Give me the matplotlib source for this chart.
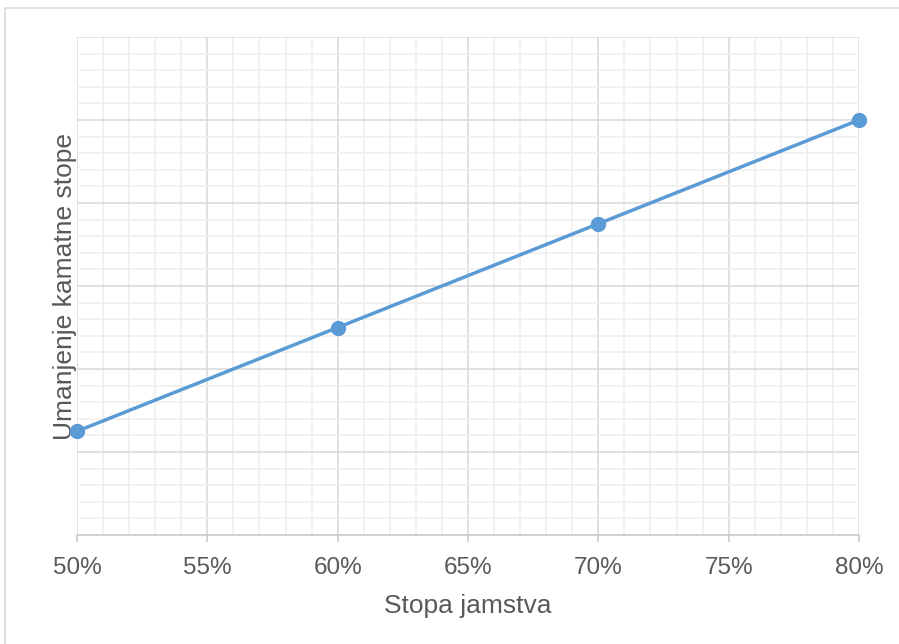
import matplotlib.pyplot as plt
from matplotlib.patches import Rectangle
from matplotlib.ticker import MultipleLocator, FuncFormatter

# Data
guarantee_rate = [50, 60, 70, 80]
rate_reduction = [1.25, 2.5, 3.75, 5.0]

x_label = "Stopa jamstva"
y_label = "Umanjenje kamatne stope"

line_color = "#5b9bd5"
text_color = "#595959"
major_grid = "#d9d9d9"
minor_grid = "#eeeeee"

plt.rcParams['font.family'] = ['Liberation Sans', 'DejaVu Sans']

fig = plt.figure(figsize=(8.99, 6.44), dpi=100)
ax = fig.add_axes([77 / 899, 109 / 644, 782 / 899, 498 / 644])

# outer frame of the chart
fig.patches.append(Rectangle((5 / 899, -0.02), 1.1, 1 - 8 / 644 + 0.02,
                             transform=fig.transFigure, fill=False,
                             edgecolor="#d9d9d9", linewidth=1.2))

ax.set_xlim(50, 80)
ax.set_ylim(0, 6)
ax.xaxis.set_major_locator(MultipleLocator(5))
ax.xaxis.set_minor_locator(MultipleLocator(1))
ax.yaxis.set_major_locator(MultipleLocator(1))
ax.yaxis.set_minor_locator(MultipleLocator(0.2))
ax.xaxis.set_major_formatter(FuncFormatter(lambda v, p: f"{v:.0f}%"))

ax.grid(which='minor', color=minor_grid, linewidth=1.1)
ax.grid(which='major', color=major_grid, linewidth=1.1)
ax.set_axisbelow(True)

for side in ['top', 'right', 'left']:
    ax.spines[side].set_visible(False)
ax.spines['bottom'].set_color("#c8c8c8")
ax.spines['bottom'].set_linewidth(1.1)

ax.tick_params(axis='x', which='major', length=5, width=1.1, color="#c8c8c8",
               labelsize=17.5, labelcolor=text_color, pad=11)
ax.tick_params(axis='x', which='minor', length=0)
ax.tick_params(axis='y', which='both', length=0, labelleft=False)

ax.plot(guarantee_rate, rate_reduction, color=line_color, linewidth=2.5,
        marker='o', markersize=10, clip_on=False, zorder=5)

ax.set_xlabel(x_label, fontsize=19, color=text_color, labelpad=11)
ax.set_ylabel(y_label, fontsize=19, color=text_color, labelpad=0)

fig.savefig("out.png", dpi=100)
